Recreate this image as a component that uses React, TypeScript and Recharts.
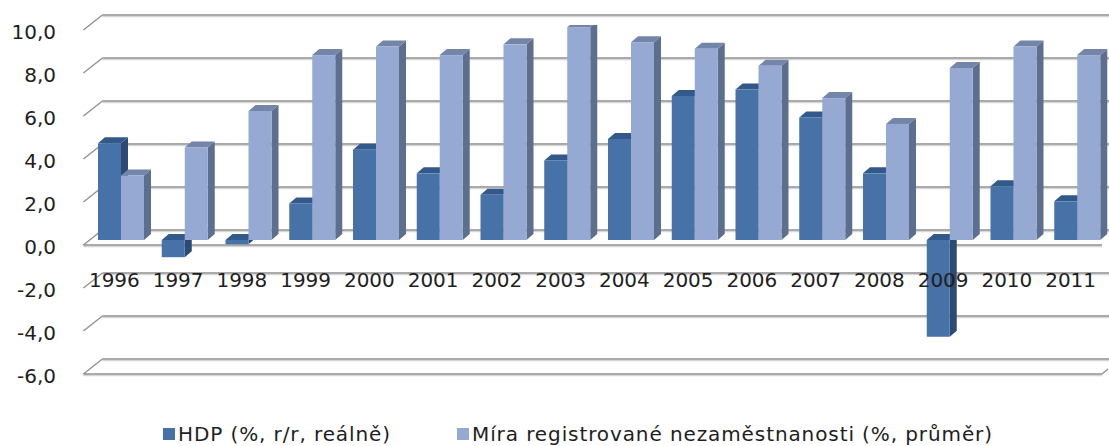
import React from 'react';
import { BarChart, Bar, XAxis, YAxis, CartesianGrid, Legend } from 'recharts';

// ---- data ----
const years = ['1996', '1997', '1998', '1999', '2000', '2001', '2002', '2003', '2004', '2005', '2006', '2007', '2008', '2009', '2010', '2011'];
const gdp = [4.5, -0.8, -0.2, 1.7, 4.2, 3.1, 2.1, 3.7, 4.7, 6.7, 7.0, 5.7, 3.1, -4.5, 2.5, 1.8];
const unemployment = [3.0, 4.3, 6.0, 8.6, 9.0, 8.6, 9.1, 9.9, 9.2, 8.9, 8.1, 6.6, 5.4, 8.0, 9.0, 8.6];
const yTicks = [-6, -4, -2, 0, 2, 4, 6, 8, 10];
const seriesNames = ['HDP (%, r/r, reálně)', 'Míra registrované nezaměstnanosti (%, průměr)'];

const data = years.map((year, i) => ({ year, gdp: gdp[i], unemp: unemployment[i] }));

// ---- layout / style ----
const W = 1109;
const H = 446;
const FONT = "'DejaVu Sans', sans-serif";
const TEXT = '#1e1e1e';
const MARGIN = { top: 25, right: 0, bottom: 0, left: 0 };
const Y_AXIS_W = 89;
const X_AXIS_H = 52;
const LEGEND_H = 25;
const Y_MIN = -6;
const Y_MAX = 10;
const PLOT_TOP = MARGIN.top;
const PLOT_BOTTOM = H - MARGIN.bottom - LEGEND_H - X_AXIS_H;
const ZERO_Y = PLOT_TOP + ((PLOT_BOTTOM - PLOT_TOP) * Y_MAX) / (Y_MAX - Y_MIN);
const DX = 7; // bar depth
const DY = 6;
const BACK_DX = 13.4;
const BACK_DY = -10;
const FRONT_DX = -5.6;
const FRONT_DY = 5;
const Y_LABEL_X = 56;
const LEGEND_X = [163, 457];

const COLORS = [
  { front: '#4672A8', top: '#33598A', side: '#2C4A74' },
  { front: '#95A9D2', top: '#7385A8', side: '#5E6F8E' },
];

const GRID = '#8e8e8e';
const GRID_LIGHT = '#d6d6d6';

const GridLine = (p: any) => {
  const { x1, x2, y1, key } = p;
  const by = y1 + BACK_DY;
  const bx = x1 + BACK_DX;
  const bxEnd = x2 + BACK_DX;
  const fx = x1 + FRONT_DX;
  const fy = y1 + FRONT_DY;
  const isZero = Math.abs(y1 - ZERO_Y) < 1.5;
  const isBottom = Math.abs(y1 - PLOT_BOTTOM) < 1.5;
  const fxEnd = x2 - 7;
  return (
    <g key={key}>
      <line x1={bx} y1={by + 1.6} x2={bxEnd} y2={by + 1.6} stroke={GRID_LIGHT} strokeWidth={1.4} />
      <line x1={bx} y1={by} x2={bxEnd} y2={by} stroke={GRID} strokeWidth={1.3} />
      <line x1={bx} y1={by} x2={fx} y2={fy} stroke={GRID} strokeWidth={1.3} />
      {(isZero || isBottom) && (
        <>
          <line x1={fx} y1={fy + 1.6} x2={fxEnd} y2={fy + 1.6} stroke={GRID_LIGHT} strokeWidth={1.4} />
          <line x1={fx} y1={fy} x2={fxEnd} y2={fy} stroke={GRID} strokeWidth={1.3} />
        </>
      )}
      {isBottom && (
        <line x1={fxEnd} y1={fy} x2={fxEnd + 6} y2={fy - 5} stroke={GRID} strokeWidth={1.3} />
      )}
    </g>
  );
};

const make3D = (c: { front: string; top: string; side: string }) => (props: any) => {
  const { x, y, width, height } = props;
  if (x == null || y == null || width == null || height == null) return <g />;
  const t = Math.min(y, y + height);
  const h = Math.abs(height);
  const r = x + width;
  return (
    <g>
      <polygon points={`${r},${t} ${r + DX},${t - DY} ${r + DX},${t + h - DY} ${r},${t + h}`} fill={c.side} />
      <polygon points={`${x},${t} ${r},${t} ${r + DX},${t - DY} ${x + DX},${t - DY}`} fill={c.top} />
      <rect x={x} y={t} width={width} height={h} fill={c.front} />
    </g>
  );
};

const fmt = (v: number) => v.toFixed(1).replace('.', ',');

const YTick = (props: any) => {
  const { y, payload } = props;
  return (
    <text x={Y_LABEL_X} y={y + 14} textAnchor="end" fill={TEXT} fontFamily={FONT} fontSize={20}>
      {fmt(payload.value)}
    </text>
  );
};

const XTick = (props: any) => {
  const { x, payload } = props;
  return (
    <text x={x - 6.5} y={ZERO_Y + 47} textAnchor="middle" fill={TEXT} fontFamily={FONT} fontSize={20}>
      {payload.value}
    </text>
  );
};

const renderLegend = () => (
  <div style={{ position: 'relative', width: W, height: LEGEND_H, fontFamily: FONT, fontSize: 20, color: TEXT }}>
    {seriesNames.map((name, i) => (
      <div
        key={name}
        style={{ position: 'absolute', left: LEGEND_X[i], top: 0, height: LEGEND_H, display: 'flex', alignItems: 'center', whiteSpace: 'nowrap' }}
      >
        <span style={{ display: 'inline-block', width: 12, height: 12, background: COLORS[i].front, marginRight: 3 }} />
        <span style={{ letterSpacing: 0.9 }}>{name}</span>
      </div>
    ))}
  </div>
);

export default function App() {
  return (
    <div style={{ position: 'absolute', left: 0, top: 0, width: W, height: H, background: '#ffffff' }}>
      <BarChart width={W} height={H} data={data} margin={MARGIN} barGap={0} barSize={23}>
        <CartesianGrid vertical={false} horizontal={GridLine} />
        <XAxis dataKey="year" height={X_AXIS_H} axisLine={false} tickLine={false} interval={0} tick={<XTick />} />
        <YAxis
          domain={[Y_MIN, Y_MAX]}
          ticks={yTicks}
          width={Y_AXIS_W}
          axisLine={false}
          tickLine={false}
          interval={0}
          allowDataOverflow
          tick={<YTick />}
        />
        <Legend verticalAlign="bottom" content={renderLegend} wrapperStyle={{ left: 0, bottom: 0, width: W, height: LEGEND_H }} />
        <Bar dataKey="gdp" name={seriesNames[0]} isAnimationActive={false} shape={make3D(COLORS[0])} />
        <Bar dataKey="unemp" name={seriesNames[1]} isAnimationActive={false} shape={make3D(COLORS[1])} />
      </BarChart>
    </div>
  );
}
